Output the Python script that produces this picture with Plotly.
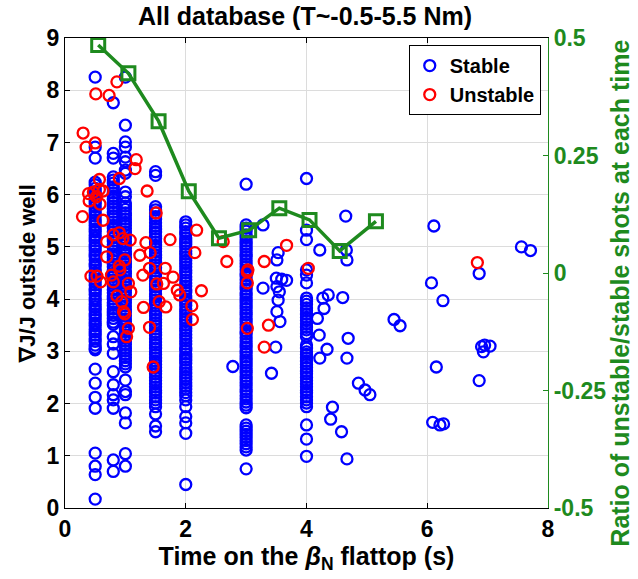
import plotly.graph_objects as go

# --- Stable shots: x = time on the beta_N flattop (s), y = grad J / J outside well ---
stable_t05 = [8.25, 6.91, 6.70,
              6.24, 6.19, 6.12, 6.06, 6.01, 5.95, 5.88, 5.83, 5.77, 5.70, 5.65, 5.59, 5.52,
              5.47, 5.41, 5.34, 5.29, 5.22, 5.17, 5.11, 5.04, 4.99, 4.93, 4.86, 4.81, 4.75,
              4.68, 4.63, 4.56, 4.51, 4.45, 4.38, 4.33, 4.27, 4.20, 4.15, 4.09, 4.02, 3.97,
              3.90, 3.85, 3.79, 3.72, 3.67, 3.61, 3.54, 3.49, 3.42, 3.37, 3.31, 3.24, 3.19,
              3.12, 3.06, 3.03,
              2.66, 2.39, 2.12, 1.91, 1.05, 0.80, 0.64, 0.17]
stable_t08 = [7.76, 6.79, 6.70,
              6.34, 6.28, 6.22, 6.15, 6.10, 6.03, 5.97, 5.91, 5.85, 5.78, 5.73, 5.66, 5.60,
              5.54, 5.48, 5.41, 5.36, 5.29, 5.23, 5.17, 5.11, 5.04, 4.99, 4.92, 4.86, 4.80,
              4.74, 4.67, 4.62, 4.55, 4.49, 4.43, 4.37, 4.30, 4.25, 4.18, 4.12, 4.06, 4.00,
              3.93, 3.88, 3.81, 3.75, 3.69, 3.63, 3.56, 3.52,
              3.28, 3.14, 2.96, 2.61, 2.36, 2.17, 2.07, 1.91, 0.92, 0.70]
stable_t10 = [8.25, 7.33, 7.01, 6.91, 6.72, 6.63, 6.47, 6.41, 6.05, 5.96,
              5.84, 5.78, 5.72, 5.65, 5.60, 5.53, 5.47, 5.41, 5.35, 5.28, 5.23, 5.16, 5.10,
              5.04, 4.98, 4.91, 4.86, 4.79, 4.73, 4.67, 4.61, 4.54, 4.49, 4.42, 4.36, 4.30,
              4.24, 4.17, 4.12, 4.05, 3.99, 3.93, 3.87, 3.80, 3.75, 3.68, 3.62, 3.56, 3.50,
              3.43, 3.38, 3.31, 3.25, 3.19, 3.13, 3.06, 3.01, 2.94, 2.88, 2.82, 2.76, 2.70,
              2.45, 2.23, 2.17, 1.82, 1.63, 1.04, 0.80]
stable_t15 = [6.44, 6.37,
              5.77, 5.71, 5.65, 5.58, 5.53, 5.46, 5.40, 5.34, 5.28, 5.21, 5.16, 5.09, 5.03,
              4.97, 4.91, 4.84, 4.79, 4.72, 4.66, 4.60, 4.54, 4.47, 4.42, 4.35, 4.29, 4.23,
              4.17, 4.10, 4.05, 3.98, 3.92, 3.86, 3.80, 3.73, 3.68, 3.61, 3.55, 3.49, 3.43,
              3.36, 3.31, 3.24, 3.18, 3.12, 3.06, 2.99, 2.94, 2.87, 2.81, 2.75, 2.69, 2.62,
              2.57, 2.50, 2.44, 2.38, 2.32, 2.25, 2.20, 2.13, 2.07, 2.01, 1.94,
              1.80, 1.57, 1.46]
stable_t20 = [5.48, 5.42, 5.36, 5.29, 5.24, 5.17, 5.11, 5.05, 4.99, 4.92, 4.87, 4.80, 4.74,
              4.68, 4.62, 4.55, 4.50, 4.43, 4.37, 4.31, 4.25, 4.18, 4.13, 4.06, 4.00, 3.94,
              3.88, 3.81, 3.76, 3.69, 3.63, 3.57, 3.51, 3.44, 3.39, 3.32, 3.26, 3.20, 3.14,
              3.07, 3.02, 2.95, 2.89, 2.83, 2.77, 2.70, 2.65, 2.58, 2.52, 2.46, 2.40, 2.33,
              2.28, 2.21, 2.15, 2.07,
              1.94, 1.75, 1.63, 1.43, 0.45]
stable_t30 = [6.20,
              5.42, 5.36, 5.30, 5.23, 5.18, 5.11, 5.05, 4.99, 4.93, 4.86, 4.81, 4.74, 4.68,
              4.62, 4.56, 4.49, 4.44, 4.37, 4.31, 4.25, 4.19, 4.12, 4.07, 4.00, 3.94, 3.88,
              3.82, 3.75, 3.70, 3.63, 3.57, 3.51, 3.45, 3.38, 3.33, 3.26, 3.20, 3.14, 3.08,
              3.01, 2.96, 2.89, 2.83, 2.77, 2.71, 2.64, 2.59, 2.52, 2.46, 2.40, 2.34, 2.27,
              2.22, 2.15, 2.09, 2.03, 1.97, 1.92,
              1.59, 1.53, 1.47, 1.41, 1.35, 1.29, 1.23, 1.17, 1.11, 0.75]
stable_t40 = [6.31, 5.32, 5.14, 4.56, 4.46, 4.31,
              4.02, 3.96, 3.90, 3.83, 3.78, 3.71, 3.65, 3.59, 3.53, 3.46, 3.41, 3.34, 3.28,
              3.12, 3.06, 2.99, 2.94, 2.87, 2.81, 2.75, 2.69, 2.62, 2.57, 2.50, 2.44, 2.38,
              2.32, 2.25, 2.20, 2.13, 2.07, 2.01, 1.94,
              1.59, 1.32, 0.99]

stable_scatter_x = [3.28, 4.65, 4.22, 4.66, 4.67, 3.53, 3.51, 6.11, 7.56, 7.71, 6.86, 6.07,
                    6.26, 6.90, 6.95, 7.04, 6.93, 6.15, 6.86, 6.09, 6.21, 6.27, 3.28, 3.50,
                    3.59, 3.67, 3.51, 3.55, 3.53, 3.51, 3.56, 3.49, 3.42, 4.27, 4.36, 4.29,
                    4.18, 4.21, 4.34, 4.22, 4.60, 4.69, 4.67, 4.86, 4.97, 5.05, 5.45, 5.55,
                    4.43, 4.40, 4.58, 4.67, 2.78]
stable_scatter_y = [5.42, 5.59, 4.94, 4.94, 4.75, 4.89, 4.75, 5.40, 5.00, 4.93, 4.49, 4.31,
                    3.97, 3.09, 3.12, 3.10, 2.99, 2.70, 2.44, 1.64, 1.59, 1.61, 4.21, 4.40,
                    4.38, 4.36, 4.24, 4.14, 3.98, 3.76, 3.57, 3.08, 2.58, 4.02, 4.08, 3.82,
                    3.63, 3.31, 3.04, 2.87, 4.03, 3.25, 2.87, 2.39, 2.26, 2.17, 3.61, 3.49,
                    1.93, 1.70, 1.46, 0.94, 2.71]

# --- Unstable shots ---
unstable_x = [0.86, 0.51, 0.73, 0.30, 0.35, 0.50, 1.18, 1.16, 0.90, 0.57, 1.36, 0.39, 0.47,
              0.57, 0.63, 0.40, 0.58, 0.52, 0.29, 0.63, 1.51, 2.18, 1.74, 2.62, 2.68, 2.15,
              1.34, 1.24, 1.41, 0.69, 0.80, 0.90, 0.96, 1.08, 0.69, 0.99, 0.90, 3.03, 0.43,
              0.53, 0.59, 0.77, 0.80, 0.91, 1.05, 1.09, 0.86, 0.94, 0.97, 0.99, 1.05, 1.02,
              1.29, 1.40, 1.52, 1.63, 1.66, 1.79, 1.86, 1.90, 1.56, 1.67, 1.30, 1.40, 1.46,
              2.26, 2.10, 2.11, 3.02, 3.02, 3.02, 3.30, 3.37, 3.30, 4.03, 3.67, 6.83]
unstable_y = [8.16, 7.93, 7.90, 7.18, 6.91, 6.99, 6.67, 6.50, 6.31, 6.29, 6.07, 6.02, 6.05,
              6.10, 6.07, 5.88, 5.82, 5.96, 5.58, 5.51, 5.65, 5.32, 5.14, 5.10, 4.72, 4.89,
              5.08, 4.84, 4.89, 5.10, 5.23, 5.27, 5.16, 5.13, 4.81, 4.75, 4.63, 4.56, 4.44,
              4.44, 4.33, 4.46, 4.33, 4.56, 4.30, 4.14, 4.06, 3.95, 3.76, 3.72, 3.44, 3.28,
              4.46, 4.59, 4.29, 4.30, 4.59, 4.42, 4.17, 4.08, 3.95, 3.85, 3.84, 3.46, 2.70,
              4.16, 3.87, 3.61, 4.52, 4.31, 3.44, 4.72, 3.50, 3.08, 4.59, 5.03, 4.70]

# --- Ratio of unstable/stable shots per time bin ---
ratio_t = [0.55, 1.05, 1.55, 2.05, 2.55, 3.05, 3.55, 4.05, 4.55, 5.15]
ratio_v = [0.485, 0.425, 0.323, 0.174, 0.074, 0.091, 0.138, 0.113, 0.047, 0.110]

x_ticks = [0, 2, 4, 6, 8]
y_ticks = list(range(10))
r_ticks = [-0.5, -0.25, 0, 0.25, 0.5]
r_tick_text = ["-0.5", "-0.25", "0", "0.25", "0.5"]

stable_cols = [(0.5, stable_t05), (0.8, stable_t08), (1.0, stable_t10), (1.5, stable_t15),
               (2.0, stable_t20), (3.0, stable_t30), (4.0, stable_t40)]
stable_x, stable_y = [], []
for t, ys in stable_cols:
    stable_x += [t] * len(ys)
    stable_y += ys
stable_x += stable_scatter_x
stable_y += stable_scatter_y

FONT = "Liberation Sans"
GREEN = "#1e8a1e"
BLUE = "#0000ff"
RED = "#ff0000"

fig = go.Figure()
fig.add_trace(go.Scatter(
    x=stable_x, y=stable_y, mode="markers", name="Stable",
    marker=dict(symbol="circle-open", size=11, color=BLUE, line=dict(width=2.3, color=BLUE)),
))
fig.add_trace(go.Scatter(
    x=unstable_x, y=unstable_y, mode="markers", name="Unstable",
    marker=dict(symbol="circle-open", size=11, color=RED, line=dict(width=2.3, color=RED)),
))
fig.add_trace(go.Scatter(
    x=ratio_t, y=ratio_v, mode="lines+markers", yaxis="y2", showlegend=False,
    line=dict(color=GREEN, width=3.5),
    marker=dict(symbol="square-open", size=13, color=GREEN, line=dict(width=3, color=GREEN)),
))

tick_font = dict(family=FONT, size=23, color="black", weight="bold")

fig.update_layout(
    width=638, height=579,
    margin=dict(l=65, r=90, t=38, b=71),
    paper_bgcolor="white", plot_bgcolor="white",
    title=dict(text="All database (T~-0.5-5.5 Nm)", x=0.478, xanchor="center",
               y=0.972, yanchor="middle", yref="container",
               font=dict(family=FONT, size=25, color="black", weight="bold")),
    xaxis=dict(
        range=[0, 8], tickvals=x_ticks, ticks="inside", ticklen=5, tickwidth=1,
        tickcolor="black", showline=True, linecolor="black", linewidth=1.2, mirror="ticks",
        showgrid=True, gridcolor="#dcdcdc", gridwidth=1, zeroline=False,
        tickfont=tick_font,
        title=dict(text="Time on the <i>β</i><sub>N</sub> flattop (s)", standoff=2,
                   font=dict(family=FONT, size=25, color="black", weight="bold")),
    ),
    yaxis=dict(
        range=[0, 9], tickvals=y_ticks, ticks="inside", ticklen=5, tickwidth=1,
        tickcolor="black", showline=True, linecolor="black", linewidth=1.2,
        showgrid=True, gridcolor="#dcdcdc", gridwidth=1, zeroline=False,
        tickfont=tick_font,
        title=dict(text="∇J/J outside well", standoff=4,
                   font=dict(family=FONT, size=22, color="black", weight="bold")),
    ),
    yaxis2=dict(
        range=[-0.5, 0.5], tickvals=r_ticks, ticktext=r_tick_text, overlaying="y",
        side="right", ticks="inside", ticklen=5, tickwidth=1, tickcolor=GREEN,
        showline=True, linecolor=GREEN, linewidth=1.2, showgrid=False, zeroline=False,
        tickfont=dict(family=FONT, size=23, color=GREEN, weight="bold"),
    ),
    annotations=[dict(
        text="Ratio of unstable/stable shots at each time", textangle=-90,
        xref="paper", yref="paper", x=1.150, y=0.457, xanchor="center", yanchor="middle",
        showarrow=False, font=dict(family=FONT, size=25, color=GREEN, weight="bold"),
    )],
    legend=dict(
        x=0.985, y=0.985, xanchor="right", yanchor="top",
        bgcolor="white", bordercolor="black", borderwidth=1,
        font=dict(family=FONT, size=20, color="black", weight="bold"),
        itemwidth=30, tracegroupgap=0,
    ),
)

fig.write_html("out.html")
